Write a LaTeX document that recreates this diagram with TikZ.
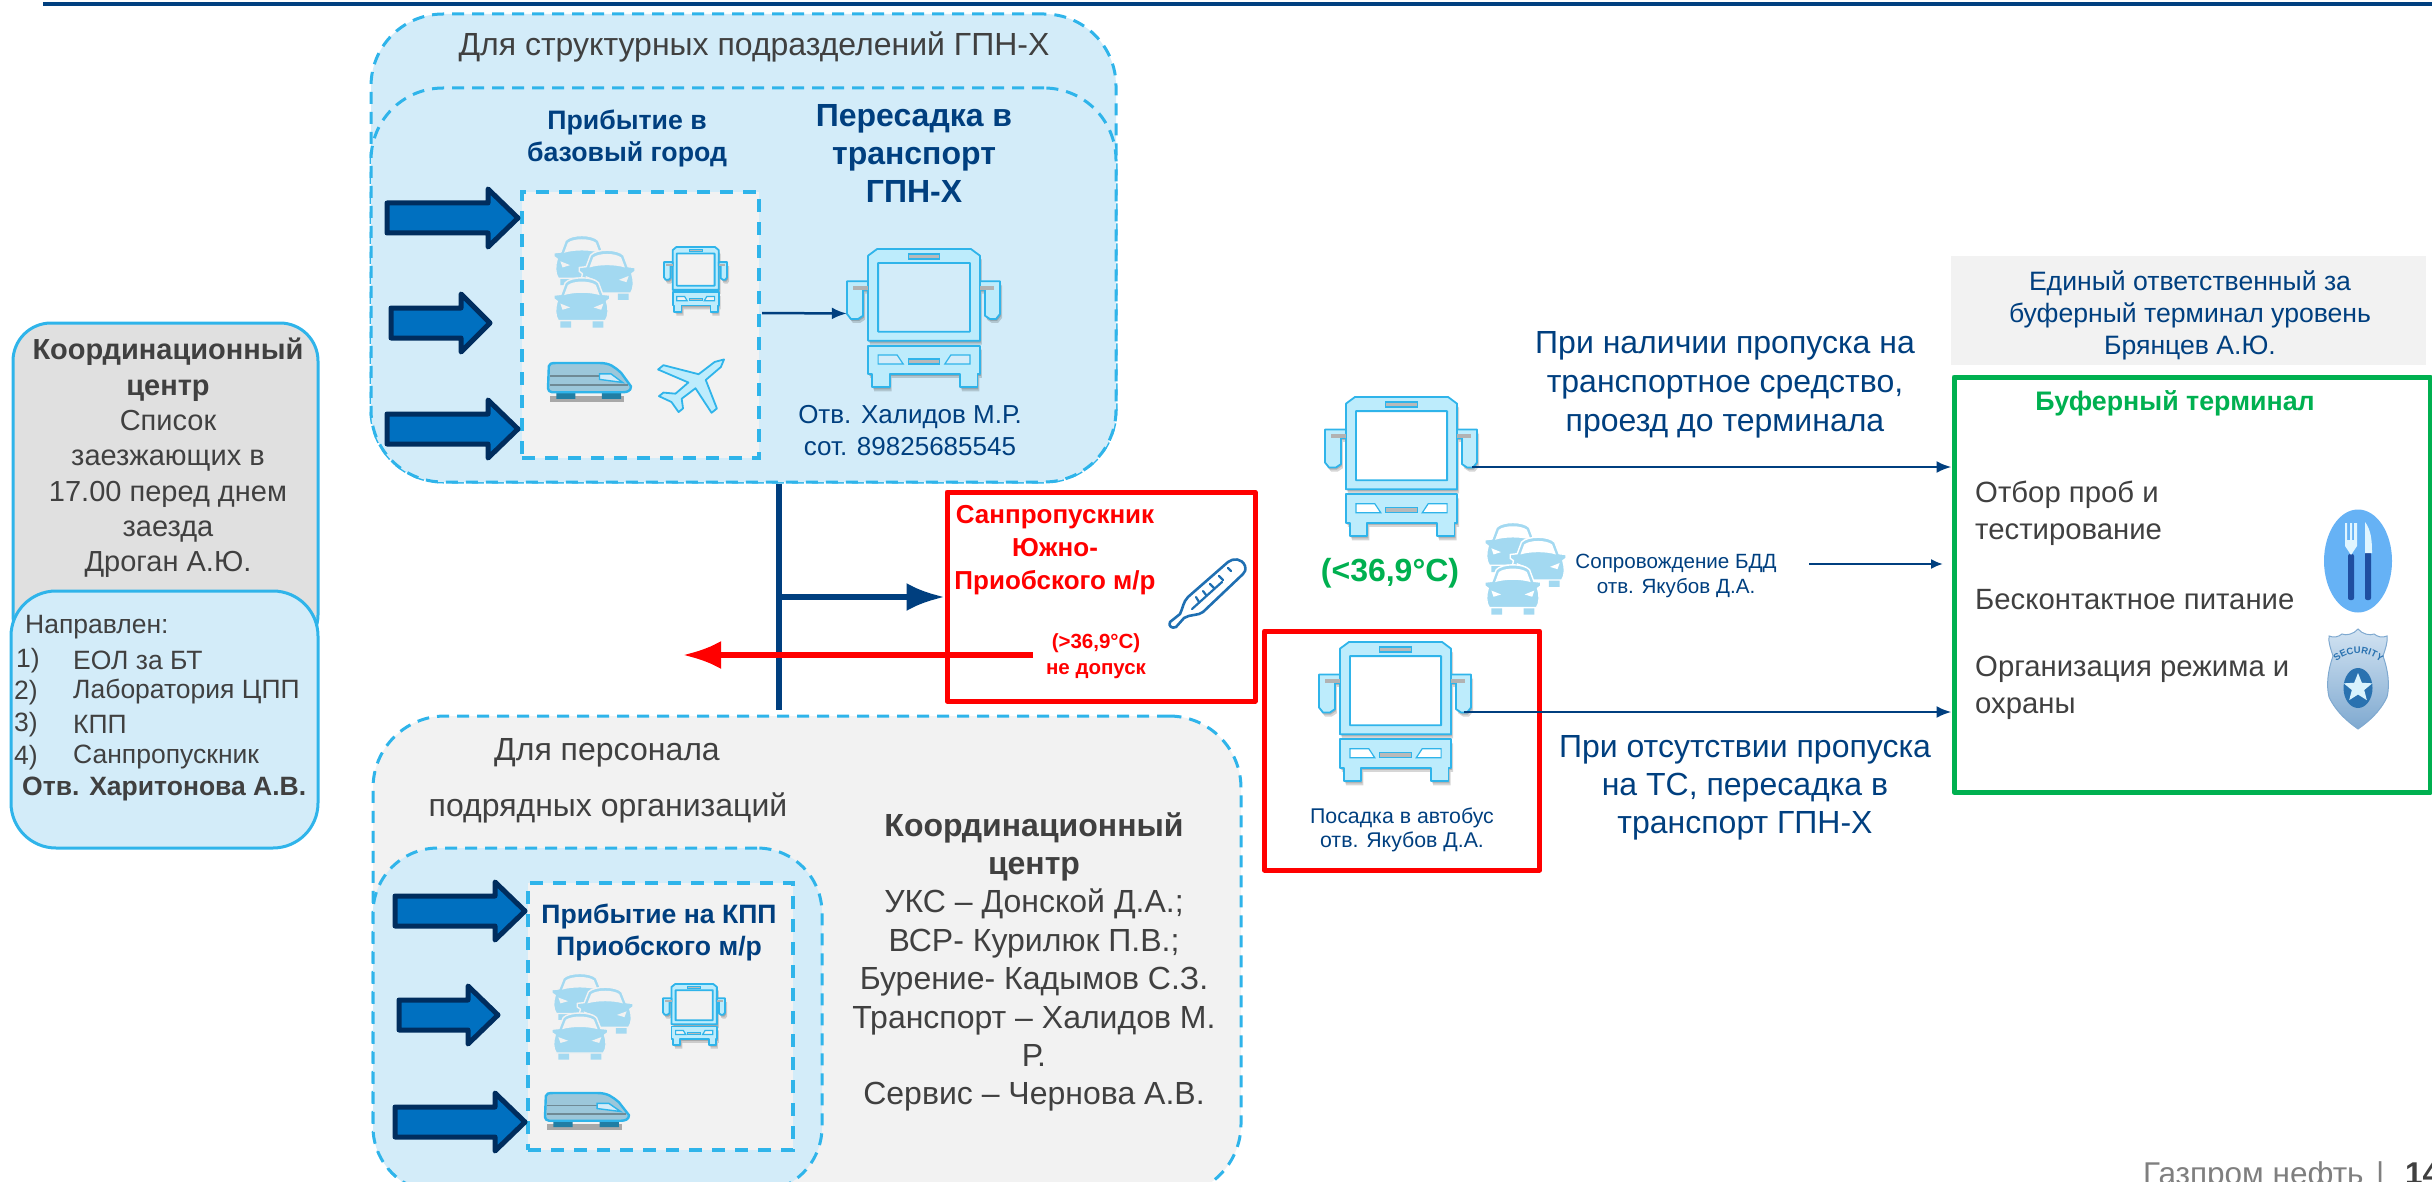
\documentclass[tikz,border=0pt]{standalone}
\usepackage{fontspec}
\setmainfont{Liberation Sans}
\usetikzlibrary{arrows.meta,calc,shapes.geometric,decorations.text}
\definecolor{navy}{HTML}{003F7F}
\definecolor{paleblue}{HTML}{D3ECF9}
\definecolor{dashblue}{HTML}{2FB4EA}
\definecolor{palegrey}{HTML}{F2F2F2}
\definecolor{midgrey}{HTML}{E0E0E0}
\definecolor{textgrey}{HTML}{404040}
\definecolor{arrowfill}{HTML}{0070C0}
\definecolor{arrowline}{HTML}{002D5E}
\definecolor{okgreen}{HTML}{00B050}
\definecolor{carblue}{HTML}{A3D9F1}
\definecolor{busfill}{HTML}{BDECFC}
\definecolor{thermo}{HTML}{1F6FB2}
\definecolor{discblue}{HTML}{66B2F5}
\definecolor{handleblue}{HTML}{1F4EA0}
\definecolor{cutlery}{HTML}{E0F5FF}
\definecolor{badgetop}{HTML}{D2E3F2}
\definecolor{badgebot}{HTML}{7FA9D0}
\definecolor{badgedisc}{HTML}{2A72B0}
\definecolor{footgrey}{HTML}{7F7F7F}
\newcommand\fs[2]{\fontsize{#1}{#2}\selectfont}
\tikzset{
  x=1pt,y=-1pt,
  panel/.style={fill=paleblue,draw=dashblue,line width=3pt,dash pattern=on 12pt off 8pt,inner sep=0pt,rounded corners=72pt},
  greypanel/.style={panel,fill=palegrey},
  dashbox/.style={fill=palegrey,draw=dashblue,line width=4pt,dash pattern=on 13pt off 10pt,inner sep=0pt},
  redbox/.style={draw=red,line width=5pt,inner sep=0pt,line join=round},
  lbl/.style={inner sep=0pt,align=center,text=textgrey},
  navytxt/.style={inner sep=0pt,align=center,text=navy},
  thin link/.style={draw=navy,line width=2.5pt,-{Latex[length=15pt,width=12pt]}},
  big link/.style={line width=6pt,-{Latex[length=38pt,width=28pt]}},
  busline/.style={draw=dashblue,line width=1.8pt,line join=round},
  blockarrow/.style={fill=arrowfill,draw=arrowline,line width=5pt,line join=round},
}
% --- bus icon, drawn in a 305 x 417 box
\def\busbody{(42,20)--(60,0)--(247,0)--(265,20)--(265,275)--(42,275)--cycle (62,42) rectangle (245,248)}
\def\buslow{(42,290)--(265,290)--(265,375)--(260,375)--(260,415)--(225,415)--(225,375)--(85,375)--(85,415)--(50,415)--(50,375)--(42,375)--cycle}
\def\busml{(0,97)--(42,97)--(42,122)--(32,122)--(32,200)--(22,210)--(8,210)--(0,195)--cycle}
\def\busmr{(305,97)--(265,97)--(265,122)--(275,122)--(275,200)--(285,210)--(297,210)--(305,195)--cycle}
\newcommand\bussil[4]{%
  \begin{scope}[shift={(#1,#2)},xscale=#3/305,yscale=#4/417]
    \fill[black,opacity=.16,even odd rule] \busbody;
    \fill[black,opacity=.16] \buslow;
    \fill[black,opacity=.16] \busml;
    \fill[black,opacity=.16] \busmr;
  \end{scope}}
\newcommand\busicon[6]{%
  \bussil{#2+2}{#3+4}{#4}{#5}
  \bussil{#2+1}{#3+2}{#4}{#5}
  \begin{scope}[shift={(#2,#3)},xscale=#4/305,yscale=#5/417]
    \fill[#6] (62,42) rectangle (245,270);
    \path[busline,fill=busfill,even odd rule] \busbody;
    \path[busline,fill=busfill] \buslow;
    \path[busline,fill=busfill] \busml;
    \path[busline,fill=busfill] \busmr;
    \fill[gray!60] (12,110) rectangle (42,122);
    \fill[gray!60] (265,110) rectangle (293,122);
    \path[draw=dashblue,line width=1.2pt,fill=gray!55] (122,15) rectangle (185,30);
    \path[draw=dashblue,line width=1.2pt,fill=#6] (62,318)--(100,318)--(112,345)--(62,345)--cycle;
    \path[draw=dashblue,line width=1.2pt,fill=#6] (195,345)--(207,318)--(245,318)--(245,345)--cycle;
    \path[draw=dashblue,line width=1.2pt,fill=gray!55] (122,330) rectangle (185,345);
  \end{scope}
  \node[inner sep=0pt,minimum width=#4*1pt,minimum height=#5*1pt] (#1) at (#2+#4/2,#3+#5/2) {};}
% --- car icon, drawn in a 100 x 130 box
\newcommand\caricon[3]{%
  \begin{scope}[shift={(#1,#2)},xscale=.68,yscale=.42]
    \fill[carblue] (10,105) rectangle (30,130) (70,105) rectangle (90,130);
    \path[fill=carblue,draw=#3,line width=1.4pt,line join=round]
      (6,112) .. controls (0,100) and (0,80) .. (4,62) -- (-2,56) -- (-2,46) -- (11,44)
      -- (19,14) .. controls (30,-3) and (70,-3) .. (81,14) -- (89,44) -- (102,46) -- (102,56) -- (96,62)
      .. controls (100,80) and (100,100) .. (94,112) -- cycle;
    \fill[#3] (24,20) .. controls (35,8) and (65,8) .. (76,20) -- (83,46) .. controls (65,38) and (35,38) .. (17,46) -- cycle;
    \fill[#3] (10,68) -- (28,78) -- (14,84) -- cycle (90,68) -- (72,78) -- (86,84) -- cycle;
  \end{scope}}
\newcommand\cars[6]{%
  \begin{scope}[shift={(#2,#3)},xscale=#4/100,yscale=#5/100]
    \caricon{0}{0}{#6}
    \caricon{32}{16}{#6}
    \caricon{0}{46}{#6}
  \end{scope}
  \node[inner sep=0pt,minimum width=#4*1pt,minimum height=#5*1pt] (#1) at (#2+#4/2,#3+#5/2) {};}
% --- train icon, drawn in a 100 x 100 box
\newcommand\trainicon[5]{%
  \begin{scope}[shift={(#2,#3)},xscale=#4/100,yscale=#5/100]
    \fill[black,opacity=.3] (2,84) rectangle (92,100);
    \fill[dashblue!70!black] (10,75) rectangle (33,92) (65,75) rectangle (88,92);
    \path[fill=carblue!80!gray,draw=dashblue,line width=2.4pt,line join=round]
      (1,8) .. controls (1,2) and (4,0) .. (10,0) -- (62,0) .. controls (75,0) and (80,10) .. (88,25)
      -- (100,60) .. controls (100,72) and (95,75) .. (90,75) -- (5,75) .. controls (2,75) and (0,70) .. (0,65) -- cycle;
    \draw[gray!80!dashblue,line width=1.6pt] (2,34) -- (62,34) (2,56) -- (96,56);
    \path[draw=dashblue,line width=1.4pt,fill=paleblue] (62,28)--(76,28)--(90,50)--(62,42)--cycle;
  \end{scope}
  \node[inner sep=0pt,minimum width=#4*1pt,minimum height=#5*1pt] (#1) at (#2+#4/2,#3+#5/2) {};}
\begin{document}
\begin{tikzpicture}
\useasboundingbox (0,0) rectangle (2432,1182);
\clip (0,0) rectangle (2432,1182);
% top rule
\coordinate (ruleL) at (43,4);
\coordinate (ruleR) at (2432,4);
\draw[navy,line width=4pt] (ruleL) -- (ruleR);

% ===== left coordination centre
\node[fill=midgrey,draw=dashblue,line width=3pt,rounded corners=38pt,inner sep=0pt,minimum width=305pt,minimum height=330pt] (kcA) at (165.5,488) {};
\node[fill=paleblue,draw=dashblue,line width=3pt,rounded corners=45pt,inner sep=0pt,minimum width=307pt,minimum height=257pt] (kcB) at (164.5,719.5) {};
\node[lbl,font=\fs{29}{35.3}] (kcT) at (168,458) {\textbf{Координационный}\\\textbf{центр}\\Список\\заезжающих в\\17.00 перед днем\\заезда\\Дроган А.Ю.};
\node[lbl,anchor=west,font=\fs{26.5}{30}] (kdir) at (25,627) {Направлен:};
\node[lbl,anchor=west,font=\fs{26.5}{30}] (kn1) at (16,661) {1)};
\node[lbl,anchor=west,font=\fs{26.5}{30}] (kn2) at (14,693) {2)};
\node[lbl,anchor=west,font=\fs{26.5}{30}] (kn3) at (14,725) {3)};
\node[lbl,anchor=west,font=\fs{26.5}{30}] (kn4) at (14,758) {4)};
\node[lbl,anchor=west,font=\fs{26.5}{30}] (kt1) at (73,660) {ЕОЛ за БТ};
\node[lbl,anchor=west,font=\fs{26.5}{30}] (kt2) at (73,692) {Лаборатория ЦПП};
\node[lbl,anchor=west,font=\fs{26.5}{30}] (kt3) at (73,724) {КПП};
\node[lbl,anchor=west,font=\fs{26.5}{30}] (kt4) at (73,757) {Санпропускник};
\node[lbl,anchor=west,font=\fs{26.5}{30}\bfseries] (kresp) at (22,789) {Отв. Харитонова А.В.};

% ===== structural units panel
\node[panel,minimum width=745pt,minimum height=468pt] (outerA) at (743.5,248) {};
\node[panel,minimum width=745pt,minimum height=394pt] (innerA) at (743.5,285) {};
\node[lbl,font=\fs{32}{36}] (titleA) at (754,47) {Для структурных подразделений ГПН-Х};
\node[navytxt,font=\fs{26.7}{32}\bfseries] (arrA) at (627,138) {Прибытие в\\базовый город};
\node[navytxt,font=\fs{32}{38}\bfseries] (transfer) at (914,153) {Пересадка в\\транспорт\\ГПН-Х};
\node[dashbox,minimum width=237pt,minimum height=266pt] (arrBox) at (640.5,325) {};
\path[blockarrow] (387,203)--(488,203)--(488,189)--(518,218)--(488,247)--(488,233)--(387,233)--cycle;
\path[blockarrow] (391,308)--(461,308)--(461,294)--(490,323)--(461,352)--(461,338)--(391,338)--cycle;
\path[blockarrow] (387,414)--(488,414)--(488,400)--(518,429)--(488,458)--(488,444)--(387,444)--cycle;
\cars{carsA}{555}{235}{79}{92}{palegrey}
\busicon{busSmallA}{664}{247}{63}{65}{palegrey}
\trainicon{trainA}{548}{363}{83}{39}
% plane
\begin{scope}[shift={(695.5,382.5)},xscale=.63,yscale=.51]
  \begin{scope}[rotate=45]
    \path[busline,fill=busfill]
    (64,0)--(50,7)--(15,8)--(-12,60)--(-24,60)--(-8,8)--(-38,7)--(-50,22)--(-60,22)--(-54,0)--(-60,-22)--(-50,-22)--(-38,-7)--(-8,-8)--(-24,-60)--(-12,-60)--(15,-8)--(50,-7)--cycle;
  \end{scope}
\end{scope}
\busicon{busA}{847}{249}{153}{139}{paleblue}
\node[navytxt,font=\fs{26}{32}] (respA) at (910,431) {Отв. Халидов М.Р.\\сот. 89825685545};
\coordinate (arrBoxOut) at ($(arrBox.east)+(1,-12)$);
\coordinate (busAIn) at ($(busA.west)+(0,-5)$);
\draw[thin link] (arrBoxOut) -- (busAIn);

% ===== contractors panel
\node[greypanel,minimum width=868pt,minimum height=480pt] (outerB) at (807,956) {};
\node[panel,rounded corners=65pt,minimum width=449pt,minimum height=344pt] (innerB) at (597.5,1020) {};
\node[lbl,font=\fs{32}{36}] (titleB1) at (607,753) {Для персонала};
\node[lbl,font=\fs{32}{36}] (titleB2) at (608,808) {подрядных организаций};
\node[dashbox,minimum width=265pt,minimum height=267pt] (arrBoxB) at (660.5,1016.5) {};
\path[blockarrow] (395,896)--(495,896)--(495,882)--(525,911)--(495,940)--(495,926)--(395,926)--cycle;
\path[blockarrow] (399,1000)--(468,1000)--(468,986)--(498,1015)--(468,1044)--(468,1030)--(399,1030)--cycle;
\path[blockarrow] (395,1107)--(495,1107)--(495,1093)--(525,1122)--(495,1151)--(495,1137)--(395,1137)--cycle;
\node[navytxt,font=\fs{26.6}{32}\bfseries] (arrB) at (659,932) {Прибытие на КПП\\Приобского м/р};
\cars{carsB}{553}{973}{79}{86}{palegrey}
\busicon{busSmallB}{663}{984}{62}{61}{palegrey}
\trainicon{trainB}{545}{1093}{84}{37}
\node[lbl,font=\fs{32}{38.4}] (coord) at (1034,962) {\textbf{Координационный}\\\textbf{центр}\\УКС – Донской Д.А.;\\ВСР- Курилюк П.В.;\\Бурение- Кадымов С.З.\\Транспорт – Халидов М.\\Р.\\Сервис – Чернова А.В.};

% ===== checkpoint
\coordinate (trunkT) at (outerA.south -| 779,0);
\coordinate (trunkB) at (779,710);
\draw[navy,line width=6pt] (trunkT) -- (trunkB);
\node[redbox,minimum width=308pt,minimum height=209pt] (san) at (1101,596.5) {};
\coordinate (trunkM) at (779,597);
\draw[navy,big link] (trunkM) -- (trunkM -| san.west);
\node[inner sep=0pt,align=center,text=red,font=\fs{26}{33}\bfseries] (sanT) at (1055,550) {Санпропускник\\Южно-\\Приобского м/р};
\node[inner sep=0pt,align=center,text=red,font=\fs{20.5}{26}\bfseries] (sanN) at (1096,656) {(>36,9°C)\\не допуск};
\coordinate (rejS) at (1033,655);
\coordinate (rejE) at (683,655);
\draw[red,big link] (rejS) -- (rejE);
% thermometer
\draw[thermo,line width=2.6pt,line join=round,line cap=round]
  (1228,562) .. controls (1233,558) and (1242,558) .. (1245,566) .. controls (1246,570) and (1245,572) .. (1243,574)
  -- (1203,612) .. controls (1198,616) and (1190,614) .. (1184,618) -- (1176,627) .. controls (1172,629) and (1168,626) .. (1170,622)
  -- (1180,614) .. controls (1183,608) and (1183,602) .. (1188,597) -- cycle;
\draw[thermo,line width=2.2pt,line cap=round] (1222,582) -- (1192,609)
  (1228,568) -- (1231,571) (1219,576) -- (1223,580) (1210,584) -- (1214,588) (1203,591) -- (1206,595) (1196,597) -- (1199,602);

% ===== right side
\node[fill=palegrey,inner sep=0pt,minimum width=475pt,minimum height=109pt] (respBox) at (2188.5,310.5) {};
\node[navytxt,font=\fs{26.6}{32}] (respT) at (2190,315) {Единый ответственный за\\буферный терминал уровень\\Брянцев А.Ю.};
\node[draw=okgreen,line width=5pt,inner sep=0pt,line join=round,minimum width=476pt,minimum height=415pt] (term) at (2192,584.5) {};
\node[inner sep=0pt,text=okgreen,font=\fs{26.8}{30}\bfseries] (termT) at (2175,403) {Буферный терминал};
\node[lbl,align=left,anchor=west,font=\fs{29.3}{37}] (t1) at (1975,513) {Отбор проб и\\тестирование};
\node[lbl,align=left,anchor=west,font=\fs{29.3}{37}] (t2) at (1975,600) {Бесконтактное питание};
\node[lbl,align=left,anchor=west,font=\fs{29.3}{37}] (t3) at (1975,688) {Организация режима и\\охраны};

\busicon{busB}{1325}{397}{152}{140}{white}
\node[inner sep=0pt,text=okgreen,font=\fs{32}{36}\bfseries] (tempOK) at (1390,573) {(<36,9°C)};
\cars{carsC}{1486}{522}{79}{92}{white}
\node[navytxt,font=\fs{20.6}{25.5}] (escort) at (1676,576) {Сопровождение БДД\\отв. Якубов Д.А.};
\node[redbox,minimum width=275pt,minimum height=239pt] (board) at (1402,750.5) {};
\busicon{busC}{1319}{642}{152}{140}{white}
\node[navytxt,font=\fs{21.3}{24}] (boardT) at (1402,830) {Посадка в автобус\\отв. Якубов Д.А.};
\node[navytxt,font=\fs{32}{39}] (pass) at (1725,385) {При наличии пропуска на\\транспортное средство,\\проезд до терминала};
\node[navytxt,font=\fs{32}{38}] (nopass) at (1745,788) {При отсутствии пропуска\\на ТС, пересадка в\\транспорт ГПН-Х};
\draw[thin link] ($(busB.east)+(-5,0)$) -- (term.west |- busB.east);
\coordinate (escS) at (1809,564);
\coordinate (escE) at (1943,564);
\draw[draw=navy,line width=2pt,-{Latex[length=12pt,width=10pt]}] (escS) -- (escE);
\draw[thin link] ($(busC.east)+(-7,0)$) -- (term.west |- busC.east);

% ===== pictograms in terminal
\node[ellipse,fill=discblue,inner sep=0pt,minimum width=68pt,minimum height=103pt] (foodDisc) at (2358,561) {};
\fill[handleblue,rounded corners=2pt] (2348,554) rectangle (2354,600);
\fill[handleblue,rounded corners=2pt] (2365,552) rectangle (2371,600);
\fill[cutlery] (2345,523) -- (2347,523) -- (2347,540) -- (2350,540) -- (2350,523) -- (2352,523) -- (2352,540) -- (2354,540) -- (2354,523) -- (2357,523) -- (2357,546) -- (2351,555) -- (2345,546) -- cycle;
\fill[cutlery] (2365,522) .. controls (2371,530) and (2372,540) .. (2372,553) -- (2365,553) -- cycle;
% badge
\path[top color=badgetop,bottom color=badgebot,draw=badgebot,line width=1pt]
  (2358,629) .. controls (2362,634) and (2370,636) .. (2374,634) .. controls (2378,637) and (2382,638) .. (2387,636)
  .. controls (2388,642) and (2385,650) .. (2383,656) .. controls (2388,670) and (2390,685) .. (2387,697)
  .. controls (2380,712) and (2368,722) .. (2358,729) .. controls (2348,722) and (2336,712) .. (2329,697)
  .. controls (2326,685) and (2328,670) .. (2333,656) .. controls (2331,650) and (2328,642) .. (2329,636)
  .. controls (2334,638) and (2338,637) .. (2342,634) .. controls (2346,636) and (2354,634) .. (2358,629) -- cycle;
\node[ellipse,fill=badgedisc,inner sep=0pt,minimum width=29pt,minimum height=40pt] (badgeDisc) at (2358,688) {};
\node[star,star points=5,star point ratio=2.3,fill=white!85!cyan,inner sep=0pt,minimum size=30pt] (badgeStar) at (2358,688) {};
\coordinate (secS) at (2334,664);
\coordinate (secE) at (2383,664);
\path[postaction={decorate},decoration={text along path,text align=center,text={|\fs{9.5}{10}\bfseries\color{badgedisc}|SECURITY}}]
  (secS) .. controls (2348,650) and (2368,650) .. (secE);

% footer
\node[inner sep=0pt,anchor=base west,text=footgrey,font=\fs{31.5}{34}] (foot) at (2143,1184.5) {Газпром нефть};
\node[inner sep=0pt,anchor=base west,text=footgrey,font=\fs{31.5}{34}] (footbar) at (2376,1184.5) {|};
\node[inner sep=0pt,anchor=base west,text=textgrey,font=\fs{31.5}{34}\bfseries] (footnum) at (2405,1184.5) {14};
\end{tikzpicture}
\end{document}
